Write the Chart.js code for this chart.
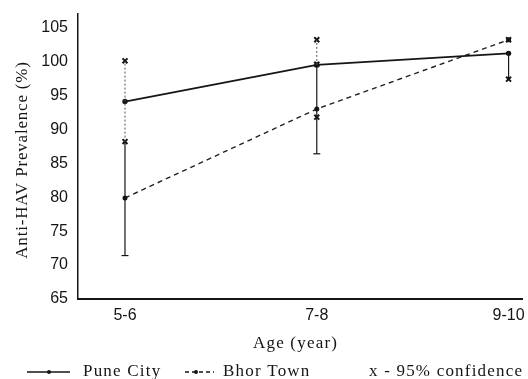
<!DOCTYPE html>
<html>
<head>
<meta charset="utf-8">
<script src="https://cdn.jsdelivr.net/npm/chart.js@4/dist/chart.umd.min.js"></script>
<style>
  html, body { margin: 0; padding: 0; background: #fff; }
  #wrap { width: 528px; height: 379px; }
</style>
</head>
<body>
<div id="wrap"><canvas id="myChartCanvas" width="528" height="379"></canvas></div>
<script>
let ageLabels = ['5-6', '7-8', '9-10'];
let puneCity = [94.1, 99.5, 101.2];
let bhorTown = [79.9, 93.0, 103.2];

// 95% confidence marks (x) at each age group
let ciMarks = [[100.1, 88.2], [103.2, 99.6, 91.8], [103.2, 97.4]];
// vertical bars: solid from barLow to barSplit, dotted from barSplit to barHigh
let barLow = [71.4, 86.4, 97.4];
let barSplit = [88.2, 99.5, 101.2];
let barHigh = [100.1, 103.2, 101.2];
let capValues = [71.4, 86.4, null];

let yTicks = [65, 70, 75, 80, 85, 90, 95, 100, 105];

const ink = '#151515';
const serif = '"Liberation Serif", "Times New Roman", serif';

function pts(arr) {
    return arr.map((v, i) => ({ x: i, y: v }));
}

let datasets = [];

// error bars first so the series lines sit on top
ageLabels.forEach((lab, i) => {
    datasets.push({
        type: 'line',
        data: [{ x: i, y: barLow[i] }, { x: i, y: barSplit[i] }],
        borderColor: ink, borderWidth: 1.2, pointRadius: 0
    });
    if (barHigh[i] > barSplit[i]) {
        datasets.push({
            type: 'line',
            data: [{ x: i, y: barSplit[i] }, { x: i, y: barHigh[i] }],
            borderColor: '#555', borderWidth: 1, borderDash: [2, 2], pointRadius: 0
        });
    }
});

datasets.push({
    label: 'Pune City',
    type: 'line',
    data: pts(puneCity),
    borderColor: ink, borderWidth: 1.8,
    pointRadius: 1.8, pointBackgroundColor: ink, pointBorderColor: ink
});
datasets.push({
    label: 'Bhor Town',
    type: 'line',
    data: pts(bhorTown),
    borderColor: '#222', borderWidth: 1.4, borderDash: [5, 4],
    pointRadius: 1.8, pointBackgroundColor: ink, pointBorderColor: ink
});

let markPts = [];
ciMarks.forEach((list, i) => list.forEach(v => markPts.push({ x: i, y: v })));
datasets.push({
    type: 'scatter',
    data: markPts,
    pointStyle: 'crossRot', pointRadius: 3.5,
    borderColor: ink, pointBorderWidth: 2, showLine: false
});

let capPts = [];
capValues.forEach((v, i) => { if (v !== null) capPts.push({ x: i, y: v }); });
datasets.push({
    type: 'scatter',
    data: capPts,
    pointStyle: 'line', pointRadius: 3.5,
    borderColor: ink, pointBorderWidth: 1.2, showLine: false
});

const textPlugin = {
    id: 'texts',
    afterDraw(chart) {
        const c = chart.ctx;
        c.save();
        c.fillStyle = ink;
        c.font = '17px ' + serif;
        c.textBaseline = 'middle';

        // y title
        c.save();
        c.letterSpacing = '0.8px';
        c.translate(23, 160);
        c.rotate(-Math.PI / 2);
        c.textAlign = 'center';
        c.fillText('Anti-HAV Prevalence (%)', 0, 0);
        c.restore();

        // x title
        c.letterSpacing = '1.2px';
        c.textAlign = 'left';
        c.fillText('Age (year)', 253, 344);

        // legend
        let ly = 372;
        c.strokeStyle = ink;
        c.lineWidth = 1.4;
        c.beginPath(); c.moveTo(27, ly); c.lineTo(70, ly); c.stroke();
        c.beginPath(); c.arc(49, ly, 2, 0, Math.PI * 2); c.fill();
        c.fillText('Pune City', 83, ly);

        c.setLineDash([4, 3]);
        c.beginPath(); c.moveTo(185, ly); c.lineTo(214, ly); c.stroke();
        c.setLineDash([]);
        c.beginPath(); c.arc(196, ly, 2, 0, Math.PI * 2); c.fill();
        c.fillText('Bhor Town', 223, ly);

        c.fillText('x - 95% confidence', 369, ly);
        c.restore();
    }
};

const ctx = document.getElementById('myChartCanvas').getContext('2d');
const chart = new Chart(ctx, {
    type: 'line',
    data: { datasets: datasets },
    options: {
        responsive: false,
        animation: false,
        layout: { padding: { top: 14, right: -3, left: 0, bottom: 0 } },
        plugins: {
            legend: { display: false },
            tooltip: { enabled: false }
        },
        scales: {
            x: {
                type: 'linear',
                min: -0.245,
                max: 2.07,
                afterFit: s => {
                    s.height = 80;
                    s.paddingLeft = 0;
                    s.paddingRight = 0;
                },
                afterBuildTicks: s => {
                    s.ticks = ageLabels.map((l, i) => ({ value: i }));
                },
                grid: { display: false, drawTicks: false },
                border: { display: true, color: ink, width: 2 },
                ticks: {
                    padding: 7,
                    color: ink,
                    font: { family: '"Liberation Sans", Arial, sans-serif', size: 16 },
                    maxRotation: 0,
                    callback: v => ageLabels[v]
                }
            },
            y: {
                min: 65,
                max: 107,
                afterFit: s => {
                    s.width = 78;
                    s.paddingTop = 0;
                    s.paddingBottom = 0;
                },
                afterBuildTicks: s => {
                    s.ticks = yTicks.map(v => ({ value: v }));
                },
                grid: { display: false, drawTicks: false },
                border: { display: true, color: ink, width: 1.5 },
                ticks: {
                    padding: 10,
                    color: ink,
                    font: { family: '"Liberation Sans", Arial, sans-serif', size: 16 }
                }
            }
        }
    },
    plugins: [textPlugin]
});
</script>
</body>
</html>
